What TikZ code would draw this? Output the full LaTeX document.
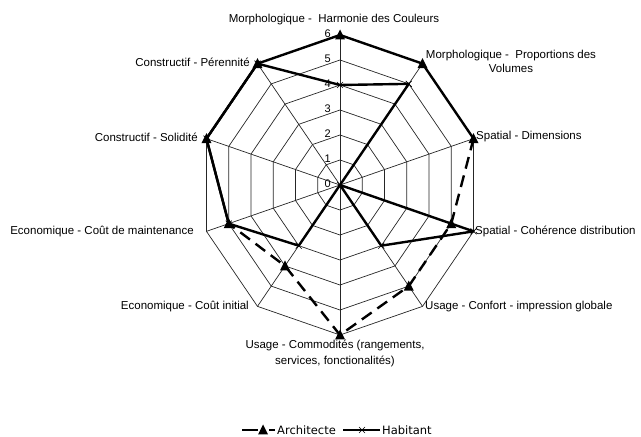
\documentclass[tikz,border=0pt]{standalone}
\usepackage{fontspec}
\setmainfont{Liberation Sans}
\newfontfamily\legfont{DejaVu Sans}
\begin{document}
\begin{tikzpicture}[x=1pt,y=1pt,
  grid/.style={line width=0.7pt, black!85},
  serie/.style={line width=2.4pt, line join=round, line cap=round},
  archdash/.style={line width=2.4pt, line join=round, dash pattern=on 12pt off 7pt},
  lab/.style={font=\fontsize{11.5}{14}\selectfont, inner sep=0pt},
  tick/.style={font=\fontsize{11}{13}\selectfont, inner sep=0pt, anchor=east},
  leg/.style={font=\legfont\fontsize{11.5}{13}\selectfont, inner sep=0pt, anchor=west},
  archmark/.pic={\fill (0,5.5) -- (-5,-4.5) -- (5,-4.5) -- cycle;},
  habmark/.pic={\draw[line width=0.6pt] (-3,-3) -- (3,3) (-3,3) -- (3,-3);}
]
\useasboundingbox (0,0) rectangle (641,437);
\coordinate (O) at (340,252);
\foreach \k in {0,...,9}{
  \foreach \r in {1,...,6}{
    \coordinate (p\k-\r) at ({340+23.4*\r*cos(90-36*\k)},{252+25*\r*sin(90-36*\k)});
  }
}
% grid
\foreach \r in {1,...,6}{
  \draw[grid] (p0-\r) -- (p1-\r) -- (p2-\r) -- (p3-\r) -- (p4-\r) -- (p5-\r) -- (p6-\r) -- (p7-\r) -- (p8-\r) -- (p9-\r) -- cycle;
}
\foreach \k in {0,...,9}{\draw[grid] (O) -- (p\k-6);}
% tick labels
\foreach \r in {0,...,6}{\node[tick] (t\r) at (331,{253+25*\r}) {\r};}
% Architecte
\draw[archdash] (p2-6) -- (p3-5) -- (p4-5) -- (p5-6) -- (p6-4) -- (p7-5);
\draw[serie] (p7-5) -- (p8-6) -- (p9-6) -- (p0-6) -- (p1-6) -- (p2-6);
% Habitant
\draw[serie] (p0-4) -- (p1-5) -- (O) -- (p3-6) -- (p4-3) -- (O) -- (p6-3) -- (p7-5) -- (p8-6) -- (p9-6) -- cycle;
% markers
\foreach \c in {p0-6,p1-6,p2-6,p3-5,p4-5,p5-6,p6-4,p7-5,p8-6,p9-6}{\pic at (\c) {archmark};}
\foreach \c in {p0-4,p1-5,O,p3-6,p4-3,p6-3,p7-5,p8-6,p9-6}{\pic at (\c) {habmark};}
% axis labels
\node[lab] (l0) at (334,417) {Morphologique -\ \ Harmonie des Couleurs};
\node[lab, align=center] (l1) at (511,375.5) {Morphologique -\ \ Proportions des\\Volumes};
\node[lab, anchor=west] (l2) at (476,300) {Spatial - Dimensions};
\node[lab, anchor=west] (l3) at (475,206) {Spatial - Cohérence distribution};
\node[lab, anchor=west] (l4) at (425,130) {Usage - Confort - impression globale};
\node[lab, align=center, font=\fontsize{11.5}{16.5}\selectfont] (l5) at (335,83.5) {Usage - Commodités (rangements,\\services, fonctionalités)};
\node[lab, anchor=east] (l6) at (249,130) {Economique - Coût initial};
\node[lab, anchor=east] (l7) at (194,205) {Economique - Coût de maintenance};
\node[lab, anchor=east] (l8) at (198,300) {Constructif - Solidité};
\node[lab, anchor=east] (l9) at (250,375) {Constructif - Pérennité};
% legend
\coordinate (la1) at (242,7); \coordinate (la2) at (258,7);
\coordinate (la3) at (269,7); \coordinate (la4) at (275,7);
\draw[line width=2.4pt] (la1) -- (la2);
\pic at (263,7) {archmark};
\draw[line width=2.4pt] (la3) -- (la4);
\node[leg] (legA) at (277,7) {Architecte};
\coordinate (lh1) at (343,7); \coordinate (lh2) at (380,7);
\draw[line width=2.4pt] (lh1) -- (lh2);
\pic at (362,7) {habmark};
\node[leg] (legH) at (382,7) {Habitant};
\end{tikzpicture}
\end{document}
